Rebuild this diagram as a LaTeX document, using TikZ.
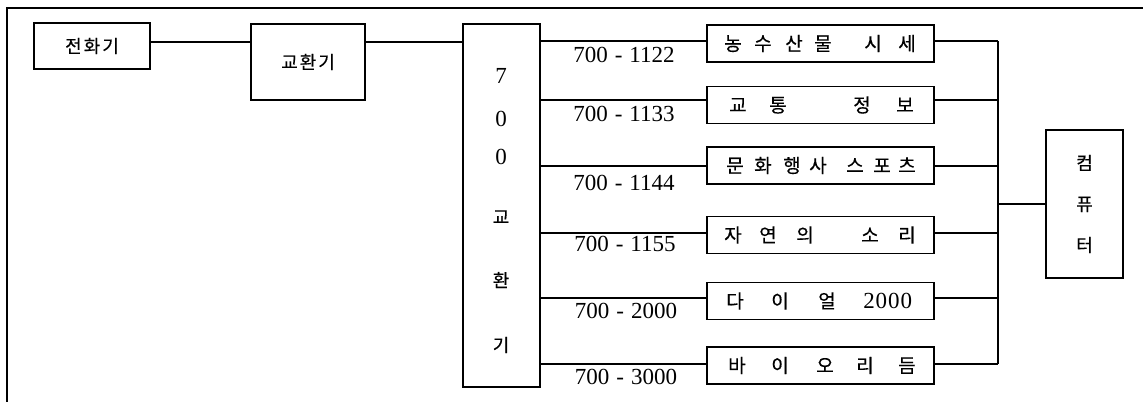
\documentclass[tikz,border=0pt]{standalone}
\usepackage{fontspec}
\newfontfamily\kr{Noto Sans CJK KR}[FakeBold=0.4]
\newfontfamily\dg{Liberation Serif}
\newcommand\ch[2]{\rlap{\hspace*{#1pt}\makebox[0pt]{#2}}}
\newcommand\rowtext[1]{\makebox[227pt][l]{#1}}
\newcommand\num{\dg\fontsize{23}{23}\selectfont}
\newcommand\tel[2]{#1\hspace{7pt}-\hspace{7pt}#2}
\begin{document}
\begin{tikzpicture}[x=1pt,y=-1pt,
  ln/.style={line width=1.4pt},
  box/.style={draw, line width=1.4pt, inner sep=0pt},
  rbox/.style={box, minimum width=227pt, minimum height=37pt, font=\kr\fontsize{19}{19}\selectfont},
  krtext/.style={inner sep=0pt, font=\kr\fontsize{18}{18}\selectfont},
  numtext/.style={inner sep=0pt, font=\num},
  lab/.style={inner sep=0pt, font=\num}]
\useasboundingbox (0,0) rectangle (1143,402);
% outer frame
\draw[line width=1.2pt] (1143,8) -- (7,8) -- (7,402);

% left boxes
\node[box, minimum width=116pt, minimum height=46pt, font=\kr\fontsize{18}{18}\selectfont] (phone) at (92,46) {전\hspace{2pt}화\hspace{2pt}기};
\node[box, minimum width=114pt, minimum height=76pt, font=\kr\fontsize{18}{18}\selectfont] (ex) at (308,62) {\raisebox{-3pt}{교\hspace{2pt}환\hspace{2pt}기}};
\node[box, minimum width=77pt, minimum height=363pt] (sw) at (501.5,205.5) {};
\node[numtext] (s1) at (501,76) {7};
\node[numtext] (s2) at (501,119) {0};
\node[numtext] (s3) at (501,157) {0};
\node[krtext] (s4) at (501,217) {교};
\node[krtext] (s5) at (501,280) {환};
\node[krtext] (s6) at (501,345) {기};

% right boxes
\node[rbox] (r1) at (820.5,43.5) {\rowtext{\ch{26}{농}\ch{56}{수}\ch{87}{산}\ch{116}{물}\ch{166}{시}\ch{200}{세}}};
\node[rbox] (r2) at (820.5,105) {\rowtext{\ch{31}{교}\ch{71}{통}\ch{155}{정}\ch{198}{보}}};
\node[rbox] (r3) at (820.5,165.5) {\rowtext{\ch{28}{문}\ch{56}{화}\ch{85}{행}\ch{111}{사}\ch{148}{스}\ch{175}{포}\ch{200}{츠}}};
\node[rbox] (r4) at (820.5,235) {\rowtext{\ch{26}{자}\ch{61}{연}\ch{98}{의}\ch{163}{소}\ch{200}{리}}};
\node[rbox] (r5) at (820.5,301) {\rowtext{\ch{28}{다}\ch{73}{이}\ch{120}{얼}\ch{162}{\num 2}\ch{174.5}{\num 0}\ch{187}{\num 0}\ch{199.5}{\num 0}}};
\node[rbox] (r6) at (820.5,365.5) {\rowtext{\ch{30}{바}\ch{73}{이}\ch{118}{오}\ch{158}{리}\ch{200}{듬}}};

% computer
\node[box, minimum width=77pt, minimum height=148pt, align=center, font=\kr\fontsize{18}{41}\selectfont] (pc) at (1084.5,204) {컴\\퓨\\터};

% labels
\node[lab] (l1) at (624,55) {\tel{700}{1122}};
\node[lab] (l2) at (624,114) {\tel{700}{1133}};
\node[lab] (l3) at (624,183) {\tel{700}{1144}};
\node[lab] (l4) at (625,244) {\tel{700}{1155}};
\node[lab] (l5) at (626,311) {\tel{700}{2000}};
\node[lab] (l6) at (626,377) {\tel{700}{3000}};

% connectors
\coordinate (h) at (0,42);
\draw[ln] (phone.east |- h) -- (ex.west |- h);
\draw[ln] (ex.east |- h) -- (sw.west |- h);

\coordinate (j1) at (998,41);
\coordinate (j2) at (998,100);
\coordinate (j3) at (998,166);
\coordinate (j4) at (998,233);
\coordinate (j5) at (998,298);
\coordinate (j6) at (998,364);
\coordinate (jc) at (998,204);
\foreach \i in {1,...,6}{
  \draw[ln] (sw.east |- j\i) -- (r\i.west |- j\i);
  \draw[ln] (r\i.east |- j\i) -- (j\i);
}
\draw[ln] (j1) -- (j6);
\draw[ln] (jc) -- (pc.west |- jc);
\end{tikzpicture}
\end{document}
